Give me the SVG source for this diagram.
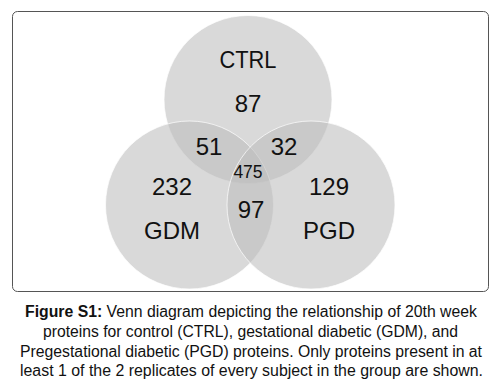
<svg xmlns="http://www.w3.org/2000/svg" width="504" height="385" viewBox="0 0 504 385">
<style>
.c{fill:#bdbdbd;fill-opacity:0.57;stroke:#ffffff;stroke-opacity:0.7;stroke-width:1}
.t{font-family:"Liberation Sans",Arial,sans-serif;font-size:24px;fill:#111;text-anchor:middle}
.s{font-size:17.5px}
.cap{font-family:"Liberation Sans",Arial,sans-serif;font-size:16px;fill:#111;text-anchor:middle}
</style>
<rect x="0" y="0" width="504" height="385" fill="#ffffff"/>
<rect id="frame" x="12.5" y="11.5" width="476" height="280" rx="5" fill="#ffffff" stroke="#555555" stroke-width="1"/>
<g id="ctrl"><circle class="c" cx="248" cy="99.5" r="84"/></g>
<g id="gdm"><circle class="c" cx="189.5" cy="205" r="84"/></g>
<g id="pgd"><circle class="c" cx="311" cy="205" r="84"/></g>
<g id="labels">
<text class="t" x="248" y="68" textLength="57" lengthAdjust="spacingAndGlyphs">CTRL</text>
<text class="t" x="248" y="112">87</text>
<text class="t" x="209" y="155">51</text>
<text class="t" x="284" y="155">32</text>
<text class="t s" x="248" y="178">475</text>
<text class="t" x="172" y="195">232</text>
<text class="t" x="329" y="195">129</text>
<text class="t" x="251" y="218">97</text>
<text class="t" x="172" y="239">GDM</text>
<text class="t" x="329" y="239">PGD</text>
</g>
<g id="caption">
<text class="cap" x="251" y="317" textLength="452" lengthAdjust="spacingAndGlyphs"><tspan font-weight="bold">Figure S1:</tspan> Venn diagram depicting the relationship of 20th week</text>
<text class="cap" x="250.5" y="337" textLength="415" lengthAdjust="spacingAndGlyphs">proteins for control (CTRL), gestational diabetic (GDM), and</text>
<text class="cap" x="251" y="357" textLength="462" lengthAdjust="spacingAndGlyphs">Pregestational diabetic (PGD) proteins. Only proteins present in at</text>
<text class="cap" x="251.5" y="376" textLength="463" lengthAdjust="spacingAndGlyphs">least 1 of the 2 replicates of every subject in the group are shown.</text>
</g>
</svg>
